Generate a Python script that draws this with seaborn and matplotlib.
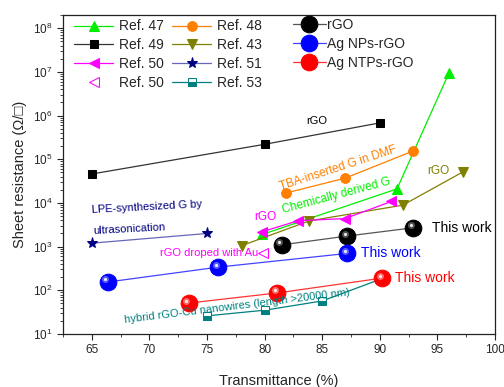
import matplotlib
matplotlib.use("Agg")
import matplotlib.pyplot as plt
import matplotlib.ticker as mticker
from matplotlib.transforms import offset_copy
import pandas as pd
import seaborn as sns

# Reference data (transmittance %, sheet resistance ohm/sq)
ref47_x = [79.8, 91.5, 96.0]
ref47_y = [1.9e3, 2.1e4, 9.4e6]
ref48_x = [81.9, 87.0, 92.9]
ref48_y = [1.7e4, 3.7e4, 1.55e5]
ref49_x = [65.0, 80.0, 90.0]
ref49_y = [4.6e4, 2.2e5, 6.8e5]
ref43_x = [78.0, 83.9, 92.0, 97.2]
ref43_y = [1.05e3, 3.9e3, 8.9e3, 5.1e4]
ref50_x = [79.8, 82.9, 87.0, 91.0]
ref50_y = [2.2e3, 3.9e3, 4.4e3, 1.08e4]
ref50b_x = [79.9]
ref50b_y = [700]
ref51_x = [65.0, 75.0]
ref51_y = [1.2e3, 2.0e3]
ref53_x = [75.0, 80.0, 85.0, 90.2]
ref53_y = [26, 35, 57, 185]
rgo_x = [81.5, 87.2, 92.9]
rgo_y = [1.1e3, 1.75e3, 2.7e3]
agnp_x = [66.4, 76.0, 87.2]
agnp_y = [155, 340, 700]
agntp_x = [73.4, 81.1, 90.2]
agntp_y = [51, 87, 190]

sns.set_style("ticks")
plt.rcParams["font.family"] = ["Liberation Sans", "DejaVu Sans"]

fig = plt.figure(figsize=(5.04, 3.87), dpi=100)
ax = fig.add_axes([0.125, 0.137, 0.857, 0.824])


def series(x, y, label, color, marker, ms=6, line=True, **kw):
    df = pd.DataFrame({"T": x, "R": y})
    sns.lineplot(data=df, x="T", y="R", ax=ax, color=color, marker=marker,
                 markersize=ms, linewidth=0.9 if line else 0,
                 markeredgecolor=kw.pop("mec", color), label=label,
                 legend=False, sort=False, **kw)
    return ax.lines[-1]


h47 = series(ref47_x, ref47_y, "Ref. 47", "#00ee00", "^", ms=7)
h48 = series(ref48_x, ref48_y, "Ref. 48", "#ff7f00", "o", ms=7)
h49 = series(ref49_x, ref49_y, "Ref. 49", "black", "s", ms=6)
h49.set_color("#333333")
h49.set_markerfacecolor("black")
h49.set_markeredgecolor("black")
h43 = series(ref43_x, ref43_y, "Ref. 43", "#808000", "v", ms=7)
h50 = series(ref50_x, ref50_y, "Ref. 50", "#ff00ff", "<", ms=7)
h50b = series(ref50b_x, ref50b_y, "Ref. 50", "#ff00ff", "<", ms=7,
              line=False, markerfacecolor="white")
h51 = series(ref51_x, ref51_y, "Ref. 51", "#000080", "*", ms=8)
h51.set_color("#6666bb")
h51.set_markerfacecolor("#000080")
h51.set_markeredgecolor("#000080")
h53 = series(ref53_x, ref53_y, "Ref. 53", "#008080", "s", ms=6,
             fillstyle="bottom", markerfacecoloralt="white")


def sphere(x, y, label, color, line_color, hi):
    h = series(x, y, label, color, "o", ms=12)
    h.set_color(line_color)
    h.set_markerfacecolor(color)
    h.set_markeredgecolor(color)
    shift = offset_copy(ax.transData, fig=fig, x=-1.8, y=1.8, units="points")
    ax.plot(x, y, "o", ms=5, color=hi, mec="none", alpha=0.7, transform=shift)
    ax.plot(x, y, "o", ms=2.2, color="white", mec="none", alpha=0.9,
            transform=shift)
    return h


hrgo = sphere(rgo_x, rgo_y, "rGO", "black", "#555555", "#777777")
hnp = sphere(agnp_x, agnp_y, "Ag NPs-rGO", "#0000ff", "#4444ff", "#8888ff")
hntp = sphere(agntp_x, agntp_y, "Ag NTPs-rGO", "#ff0000", "#ff3333", "#ff9999")

ax.set_yscale("log")
ax.set_xlim(62.5, 100)
ax.set_ylim(10, 2e8)
ax.xaxis.set_major_locator(mticker.MultipleLocator(5))
ax.xaxis.set_minor_locator(mticker.MultipleLocator(2.5))
ax.yaxis.set_major_locator(mticker.LogLocator(base=10, numticks=12))
ax.yaxis.set_minor_locator(mticker.LogLocator(base=10, subs=range(2, 10),
                                              numticks=12))
ax.yaxis.set_minor_formatter(mticker.NullFormatter())
ax.tick_params(which="major", direction="out", length=4, width=0.8,
               labelsize=8.5)
ax.tick_params(which="minor", direction="out", length=2.5, width=0.6)
for s in ax.spines.values():
    s.set_linewidth(0.9)
    s.set_color("#222222")

ax.set_xlabel("Transmittance (%)", fontsize=10.5, labelpad=13)
ax.set_ylabel("Sheet resistance (\u03a9/\u25a1)", fontsize=10.5, labelpad=4)

# annotations
ax.text(84.5, 7.4e5, "rGO", fontsize=8, color="black", ha="center", va="center")
ax.text(86.4, 6.3e4, "TBA-inserted G in DMF", fontsize=8.5, color="#ff7f00",
        ha="center", va="center", rotation=18)
ax.text(86.2, 1.5e4, "Chemically derived G", fontsize=8.5, color="#00ee00",
        ha="center", va="center", rotation=15)
ax.text(95.1, 5.4e4, "rGO", fontsize=8.5, color="#808000", ha="center",
        va="center")
ax.text(80.1, 4.8e3, "rGO", fontsize=8.5, color="#ff00ff", ha="center",
        va="center")
ax.text(65.0, 5.9e3, "LPE-synthesized G by", fontsize=8, color="#000080",
        ha="left", va="baseline", rotation=3, rotation_mode="anchor")
ax.text(65.1, 1.95e3, "ultrasonication", fontsize=8, color="#000080",
        ha="left", va="baseline", rotation=3, rotation_mode="anchor")
ax.text(70.9, 710, "rGO droped with Au", fontsize=8, color="#ff00ff",
        ha="left", va="center")
ax.text(67.9, 17.9, "hybrid rGO-Cu nanowires (length >20000 nm)", fontsize=8,
        color="#008080", ha="left", va="baseline", rotation=7,
        rotation_mode="anchor")
ax.text(94.5, 2.7e3, "This work", fontsize=10, color="black", ha="left",
        va="center")
ax.text(88.35, 710, "This work", fontsize=10, color="#0000ff", ha="left",
        va="center")
ax.text(91.3, 190, "This work", fontsize=10, color="#ff0000", ha="left",
        va="center")

leg1 = ax.legend([h47, h49, h50, h50b, h48, h43, h51, h53],
                 ["Ref. 47", "Ref. 49", "Ref. 50", "Ref. 50",
                  "Ref. 48", "Ref. 43", "Ref. 51", "Ref. 53"],
                 ncol=2, loc="upper left", bbox_to_anchor=(0.02, 0.995),
                 frameon=False, fontsize=10, handlelength=2.8,
                 handletextpad=0.4, labelspacing=0.35, columnspacing=0.6,
                 borderpad=0.2, borderaxespad=0)
ax.add_artist(leg1)
ax.legend([hrgo, hnp, hntp], ["rGO", "Ag NPs-rGO", "Ag NTPs-rGO"],
          loc="upper left", bbox_to_anchor=(0.525, 1.0), frameon=False,
          fontsize=10, handlelength=2.4, handletextpad=0.05,
          labelspacing=0.35, borderpad=0.2, borderaxespad=0)

fig.savefig("out.png", dpi=100)
